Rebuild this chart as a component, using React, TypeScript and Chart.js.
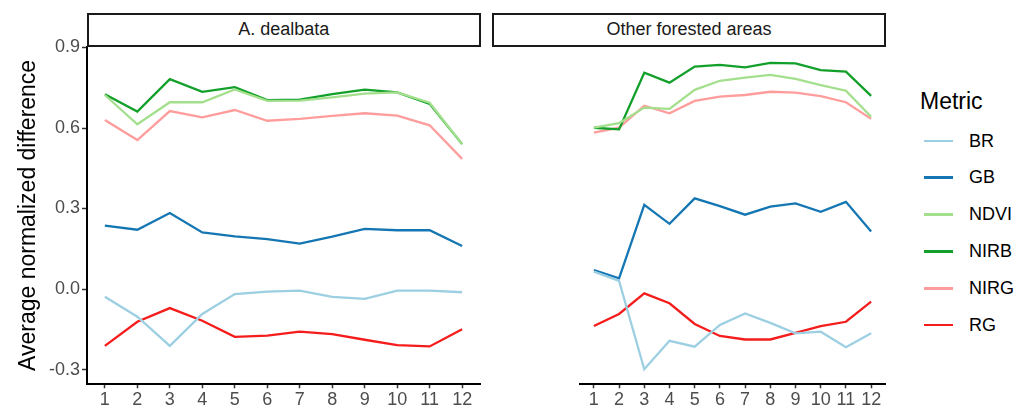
import React, { useEffect, useRef } from "react";
import { Chart, registerables } from "chart.js";

Chart.register(...registerables);

const months = [1, 2, 3, 4, 5, 6, 7, 8, 9, 10, 11, 12];
const yTicks = [-0.3, 0, 0.3, 0.6, 0.9];
const panelTitles = ["A. dealbata", "Other forested areas"];
const metrics = ["BR", "GB", "NDVI", "NIRB", "NIRG", "RG"];
const metricColors = ["#9ccfe2", "#1476b2", "#a3df8c", "#12a02a", "#ff9d9d", "#f51c1c"];

// A. dealbata
const dealBR = [-0.029, -0.103, -0.212, -0.093, -0.019, -0.010, -0.006, -0.029, -0.037, -0.006, -0.006, -0.012];
const dealGB = [0.236, 0.221, 0.283, 0.211, 0.196, 0.186, 0.169, 0.195, 0.224, 0.219, 0.219, 0.160];
const dealNDVI = [0.723, 0.614, 0.696, 0.696, 0.744, 0.701, 0.702, 0.714, 0.728, 0.733, 0.694, 0.540];
const dealNIRB = [0.726, 0.661, 0.782, 0.735, 0.752, 0.704, 0.706, 0.726, 0.743, 0.733, 0.690, 0.540];
const dealNIRG = [0.630, 0.555, 0.663, 0.640, 0.667, 0.627, 0.634, 0.645, 0.655, 0.646, 0.610, 0.485];
const dealRG = [-0.212, -0.122, -0.071, -0.118, -0.178, -0.174, -0.159, -0.168, -0.189, -0.209, -0.214, -0.150];

// Other forested areas
const otherBR = [0.065, 0.030, -0.299, -0.193, -0.215, -0.134, -0.091, -0.126, -0.165, -0.159, -0.217, -0.165];
const otherGB = [0.071, 0.040, 0.314, 0.243, 0.338, 0.309, 0.277, 0.307, 0.319, 0.288, 0.325, 0.214];
const otherNDVI = [0.601, 0.618, 0.676, 0.671, 0.742, 0.776, 0.788, 0.798, 0.783, 0.760, 0.739, 0.642];
const otherNIRB = [0.601, 0.595, 0.806, 0.769, 0.829, 0.835, 0.826, 0.843, 0.841, 0.816, 0.810, 0.720];
const otherNIRG = [0.583, 0.601, 0.683, 0.655, 0.701, 0.717, 0.723, 0.735, 0.732, 0.719, 0.696, 0.634];
const otherRG = [-0.138, -0.093, -0.016, -0.053, -0.130, -0.175, -0.188, -0.188, -0.163, -0.138, -0.122, -0.047];

const dealSeries = [dealBR, dealGB, dealNDVI, dealNIRB, dealNIRG, dealRG];
const otherSeries = [otherBR, otherGB, otherNDVI, otherNIRB, otherNIRG, otherRG];

const FONT = "'Liberation Sans', Arial, sans-serif";
const TICK_COLOR = "#4d4d4d";

function buildConfig(series: number[][], showY: boolean, padLeft: number, padRight: number): any {
  return {
    type: "line",
    data: {
      datasets: metrics.map((m, i) => ({
        label: m,
        data: months.map((x, j) => ({ x, y: series[i][j] })),
        borderColor: metricColors[i],
        backgroundColor: metricColors[i],
        borderWidth: 2.3,
        pointRadius: 0,
        tension: 0,
        fill: false,
      })),
    },
    options: {
      responsive: false,
      animation: false,
      events: [],
      layout: { padding: { top: 46.5, left: padLeft, right: padRight, bottom: 0 } },
      plugins: { legend: { display: false }, tooltip: { enabled: false }, title: { display: false } },
      scales: {
        x: {
          type: "linear",
          min: 0.45,
          max: 12.55,
          afterBuildTicks: (s: any) => {
            s.ticks = months.map((v) => ({ value: v }));
          },
          afterFit: (s: any) => {
            s.height = 412 - 384.3;
          },
          ticks: {
            autoSkip: false,
            maxRotation: 0,
            color: TICK_COLOR,
            font: { family: FONT, size: 18 },
            padding: 1,
            callback: (v: any) => String(v),
          },
          grid: {
            display: true,
            drawOnChartArea: false,
            drawTicks: true,
            tickLength: 4,
            tickColor: "#333333",
            tickWidth: 1.5,
          },
          border: { display: true, color: "#000000", width: 2 },
        },
        y: {
          type: "linear",
          display: showY,
          min: -0.355,
          max: 0.9037,
          afterBuildTicks: (s: any) => {
            s.ticks = yTicks.map((v) => ({ value: v }));
          },
          afterFit: (s: any) => {
            s.width = 87;
          },
          ticks: {
            color: TICK_COLOR,
            font: { family: FONT, size: 18 },
            padding: 2,
            callback: (v: any) => Number(v).toFixed(1),
          },
          grid: {
            display: true,
            drawOnChartArea: false,
            drawTicks: true,
            tickLength: 5,
            tickColor: "#333333",
            tickWidth: 1.5,
          },
          border: { display: true, color: "#000000", width: 2 },
          title: {
            display: true,
            text: "Average normalized difference",
            color: "#000000",
            font: { family: FONT, size: 23 },
            padding: { top: 15, bottom: 0 },
          },
        },
      },
    },
  };
}

function Panel(props: { series: number[][]; showY: boolean; left: number; width: number; padLeft: number; padRight: number }) {
  const ref = useRef<HTMLCanvasElement | null>(null);
  useEffect(() => {
    if (!ref.current) return;
    const chart = new Chart(ref.current, buildConfig(props.series, props.showY, props.padLeft, props.padRight));
    return () => chart.destroy();
  }, []);
  return (
    <canvas
      ref={ref}
      width={props.width}
      height={412}
      style={{ position: "absolute", left: props.left, top: 0, width: props.width, height: 412 }}
    />
  );
}

function Strip(props: { left: number; width: number; text: string }) {
  return (
    <div
      style={{
        position: "absolute",
        left: props.left,
        top: 12.5,
        width: props.width,
        height: 34.5,
        boxSizing: "border-box",
        border: "2px solid #1a1a1a",
        background: "#ffffff",
        display: "flex",
        alignItems: "center",
        justifyContent: "center",
        fontFamily: FONT,
        fontSize: 18,
        color: "#1a1a1a",
      }}
    >
      {props.text}
    </div>
  );
}

export default function App() {
  return (
    <div style={{ position: "fixed", left: 0, top: 0, width: 1026, height: 412, background: "#ffffff", overflow: "hidden" }}>
      <Panel series={dealSeries} showY={true} left={0} width={486} padLeft={0} padRight={6} />
      <Panel series={otherSeries} showY={false} left={488} width={400} padLeft={5} padRight={3} />
      <Strip left={86.5} width={394.5} text={panelTitles[0]} />
      <Strip left={492} width={394} text={panelTitles[1]} />
      <div style={{ position: "absolute", left: 920, top: 88, fontFamily: FONT, fontSize: 23, color: "#000" }}>Metric</div>
      {metrics.map((m, i) => (
        <div key={m} style={{ position: "absolute", left: 924, top: 141 + i * 36.8 - 12, height: 24, display: "flex", alignItems: "center" }}>
          <div style={{ width: 29, height: 2.8, background: metricColors[i] }} />
          <div style={{ marginLeft: 16, fontFamily: FONT, fontSize: 18, color: "#000" }}>{m}</div>
        </div>
      ))}
    </div>
  );
}
